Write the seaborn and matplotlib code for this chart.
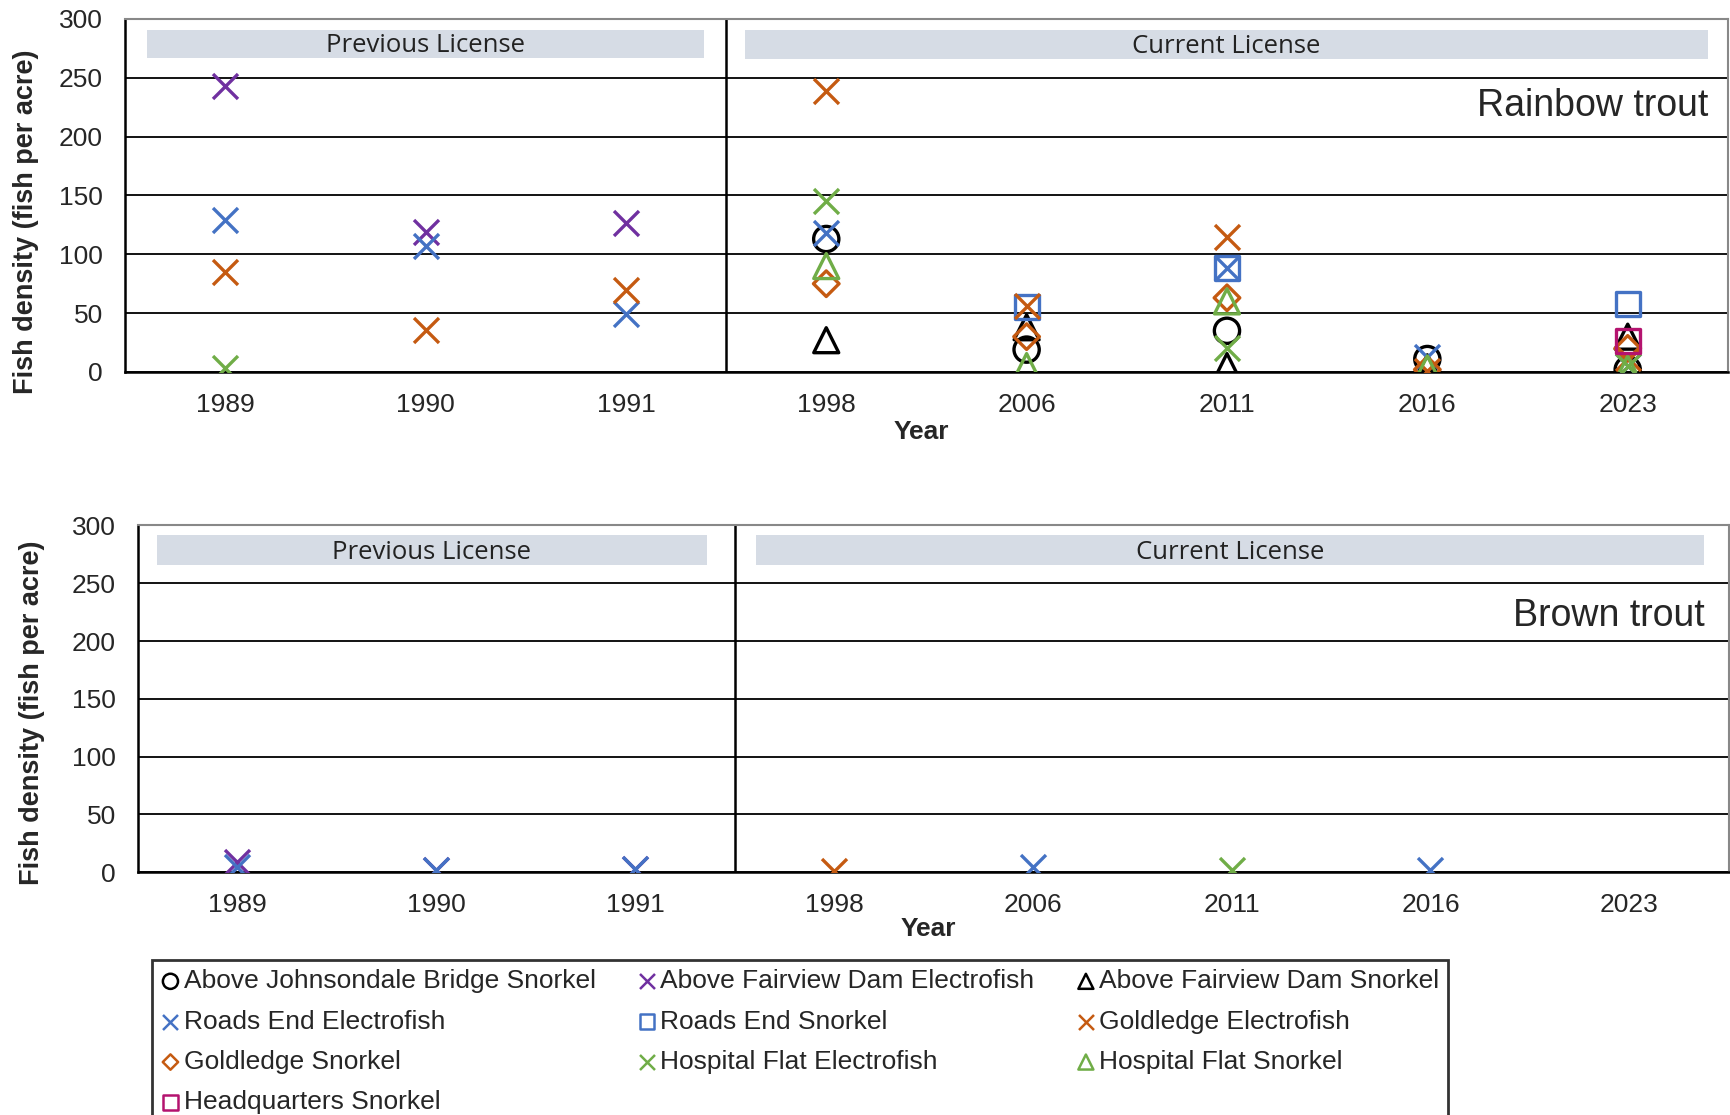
import numpy as np
import pandas as pd
import matplotlib
matplotlib.use("Agg")
import matplotlib.pyplot as plt
import matplotlib.transforms as mtransforms
import seaborn as sns

# ---------------- data ----------------
years = ["1989", "1990", "1991", "1998", "2006", "2011", "2016", "2023"]
y_ticks = [0, 50, 100, 150, 200, 250, 300]

series_names = [
    "Above Johnsondale Bridge Snorkel",
    "Above Fairview Dam Electrofish",
    "Above Fairview Dam Snorkel",
    "Roads End Snorkel",
    "Roads End Electrofish",
    "Goldledge Electrofish",
    "Goldledge Snorkel",
    "Hospital Flat Electrofish",
    "Hospital Flat Snorkel",
    "Headquarters Snorkel",
]

N = None
# Rainbow trout (fish per acre), one value per year
rb_johnsondale_snorkel = [N, N, N, 113, 19, 35, 11, 2]
rb_fairview_electro    = [243, 119, 127, N, N, N, N, N]
rb_fairview_snorkel    = [N, N, N, 27, 38, 5, 4, 30]
rb_roadsend_snorkel    = [N, N, N, N, 55, 88, N, 58]
rb_roadsend_electro    = [129, 107, 49, 118, N, 88, 13, 5]
rb_goldledge_electro   = [85, 36, 70, 239, 56, 115, 1, 12]
rb_goldledge_snorkel   = [N, N, N, 75, 30, 63, 2, 20]
rb_hospital_electro    = [3, N, N, 145, N, 20, N, 5]
rb_hospital_snorkel    = [N, N, N, 90, 5, 60, 3, 3]
rb_hq_snorkel          = [N, N, N, N, N, N, N, 26]

# Brown trout (fish per acre)
bt_johnsondale_snorkel = [N, N, N, N, N, N, N, N]
bt_fairview_electro    = [9, 2, 3, N, N, N, N, N]
bt_fairview_snorkel    = [N, N, N, N, N, N, N, N]
bt_roadsend_snorkel    = [N, N, N, N, N, N, N, N]
bt_roadsend_electro    = [4, 2, 3, N, 4, N, 2, N]
bt_goldledge_electro   = [N, N, N, 1, N, N, N, N]
bt_goldledge_snorkel   = [N, N, N, N, N, N, N, N]
bt_hospital_electro    = [N, N, N, N, N, 2, N, N]
bt_hospital_snorkel    = [N, N, N, N, N, N, N, N]
bt_hq_snorkel          = [N, N, N, N, N, N, N, N]

rainbow = [rb_johnsondale_snorkel, rb_fairview_electro, rb_fairview_snorkel,
           rb_roadsend_snorkel, rb_roadsend_electro, rb_goldledge_electro,
           rb_goldledge_snorkel, rb_hospital_electro, rb_hospital_snorkel,
           rb_hq_snorkel]
brown = [bt_johnsondale_snorkel, bt_fairview_electro, bt_fairview_snorkel,
         bt_roadsend_snorkel, bt_roadsend_electro, bt_goldledge_electro,
         bt_goldledge_snorkel, bt_hospital_electro, bt_hospital_snorkel,
         bt_hq_snorkel]

# ---------------- styles ----------------
BLACK = "#000000"
PURPLE = "#7030A0"
BLUE = "#4472C4"
ORANGE = "#C55A11"
GREEN = "#70AD47"
MAGENTA = "#B4136F"
styles = {
    "Above Johnsondale Bridge Snorkel": ("o", BLACK, 330),
    "Above Fairview Dam Electrofish": ("x", PURPLE, 324),
    "Above Fairview Dam Snorkel": ("^", BLACK, 324),
    "Roads End Snorkel": ("s", BLUE, 300),
    "Roads End Electrofish": ("x", BLUE, 324),
    "Goldledge Electrofish": ("x", ORANGE, 324),
    "Goldledge Snorkel": ("D", ORANGE, 170),
    "Hospital Flat Electrofish": ("x", GREEN, 324),
    "Hospital Flat Snorkel": ("^", GREEN, 324),
    "Headquarters Snorkel": ("s", MAGENTA, 300),
}
BAND = "#D6DCE5"
FONT = ["Liberation Sans", "DejaVu Sans"]

sns.set_style("white")
plt.rcParams["font.family"] = FONT

fig = plt.figure(figsize=(17.31, 11.15), dpi=100)
ax_top = fig.add_axes([0.0722, 0.6664, 0.926, 0.3166])
ax_bot = fig.add_axes([0.0797, 0.2179, 0.919, 0.3108])


def draw_panel(ax, data, title, band_prev, band_cur, title_y, ylabel_xy, xlabel_y):
    xs = np.arange(len(years))
    for name, vals in zip(series_names, data):
        df = pd.DataFrame({"x": xs, "y": pd.array(vals, dtype="Float64")}).dropna()
        df["y"] = df["y"].astype(float)
        m, c, s = styles[name]
        if m == "x":
            kw = dict(color=c)
        else:
            kw = dict(facecolor="none", edgecolor=c)
        if df.empty:
            df = pd.DataFrame({"x": [np.nan], "y": [np.nan]})
        sns.scatterplot(data=df, x="x", y="y", ax=ax, marker=m, s=s,
                        linewidth=2.4, legend=False, label=name, zorder=3, **kw)

    ax.set_xlim(-0.5, len(years) - 0.5)
    ax.set_ylim(0, 300)
    ax.set_yticks(y_ticks)
    ax.set_xticks(xs)
    ax.set_xticklabels(years)
    ax.set_xticks(np.arange(len(years) + 1) - 0.5, minor=True)
    ax.tick_params(axis="x", which="major", length=0, pad=15, labelsize=19)
    ax.tick_params(axis="x", which="minor", length=8, width=1.2, color="black",
                   direction="out")
    ax.tick_params(axis="y", which="major", length=7, width=1.2, color="black",
                   direction="out", pad=9, labelsize=19)
    ax.grid(axis="y", color="black", lw=1.3, zorder=1)
    ax.set_axisbelow(True)
    for side in ["top", "right"]:
        ax.spines[side].set_color("#888888")
        ax.spines[side].set_linewidth(1.5)
    ax.spines["left"].set_color("black")
    ax.spines["left"].set_linewidth(1.8)
    ax.spines["bottom"].set_color("black")
    ax.spines["bottom"].set_linewidth(1.8)

    ax.axvline(2.5, color="black", lw=1.8, zorder=2)

    blend = mtransforms.blended_transform_factory(ax.transAxes, ax.transData)
    for (x0, x1, y0, y1), label in zip([band_prev, band_cur],
                                       ["Previous License", "Current License"]):
        ax.axhspan(y0, y1, xmin=x0, xmax=x1, color=BAND, lw=0, zorder=1.5)
        ax.text((x0 + x1) / 2, (y0 + y1) / 2 - 1.5, label, transform=blend,
                ha="center", va="center", fontsize=18.5,
                family=["Open Sans", "DejaVu Sans"], color="#222222", zorder=4)

    ax.text(band_cur[1], title_y, title, transform=blend,
            ha="right", va="center", fontsize=27, zorder=4)

    ax.set_ylabel("Fish density (fish per acre)", fontsize=19.5, fontweight="bold")
    ax.yaxis.set_label_coords(*ylabel_xy)
    ax.set_xlabel("Year", fontsize=19, fontweight="bold")
    ax.xaxis.set_label_coords(0.497, xlabel_y)


draw_panel(ax_top, rainbow, "Rainbow trout",
           (0.0138, 0.3613, 267, 291), (0.3868, 0.9876, 266, 291),
           226, (-0.0535, 0.425), -0.135)
draw_panel(ax_bot, brown, "Brown trout",
           (0.0118, 0.3574, 265.6, 291.4), (0.3886, 0.9847, 265.6, 291.4),
           222, (-0.0585, 0.459), -0.129)

# legend (row-major order as in reference -> column-major for matplotlib)
handles, labels = ax_top.get_legend_handles_labels()
hmap = dict(zip(labels, handles))
order = [
    "Above Johnsondale Bridge Snorkel", "Roads End Electrofish",
    "Goldledge Snorkel", "Headquarters Snorkel",
    "Above Fairview Dam Electrofish", "Roads End Snorkel",
    "Hospital Flat Electrofish",
    "Above Fairview Dam Snorkel", "Goldledge Electrofish",
    "Hospital Flat Snorkel",
]
leg = fig.legend([hmap[k] for k in order], order, ncol=3,
                 loc="upper left", bbox_to_anchor=(0.0878, 0.139),
                 fontsize=19, markerscale=0.6, handlelength=0.7,
                 handletextpad=0.15, columnspacing=1.6, labelspacing=0.62,
                 borderpad=0.35, frameon=True, fancybox=False,
                 borderaxespad=0.0)
leg.get_frame().set_edgecolor("black")
leg.get_frame().set_linewidth(2.0)
for h in leg.legend_handles:
    h.set_linewidth(1.8)

fig.savefig("out.png", dpi=100)
